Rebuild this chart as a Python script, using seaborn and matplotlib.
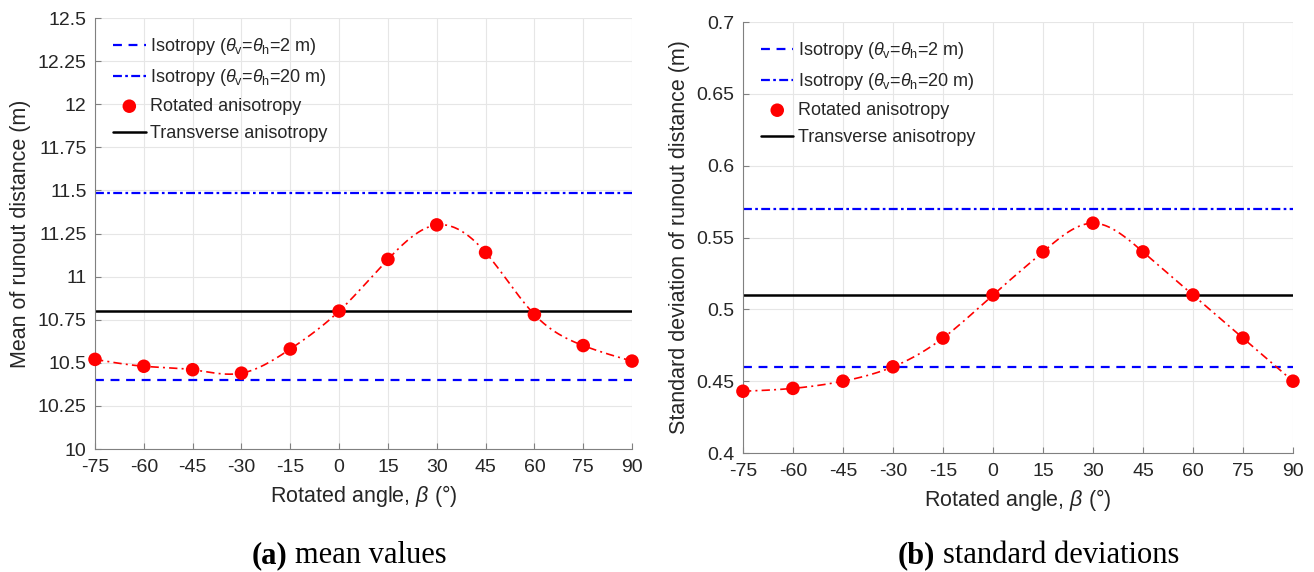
import numpy as np
import pandas as pd
import matplotlib
matplotlib.use("Agg")
import matplotlib.pyplot as plt
import seaborn as sns

# Data
angles = [-75, -60, -45, -30, -15, 0, 15, 30, 45, 60, 75, 90]
mean_rotated = [10.52, 10.48, 10.46, 10.44, 10.58, 10.80, 11.10, 11.30, 11.14, 10.78, 10.60, 10.51]
std_rotated = [0.443, 0.445, 0.450, 0.460, 0.480, 0.510, 0.540, 0.560, 0.540, 0.510, 0.480, 0.450]
mean_iso2, mean_iso20, mean_trans = 10.40, 11.485, 10.80
std_iso2, std_iso20, std_trans = 0.46, 0.57, 0.51

sns.set_style("ticks")
plt.rcParams["font.family"] = ["Liberation Sans", "DejaVu Sans"]
plt.rcParams["mathtext.fontset"] = "custom"
plt.rcParams["mathtext.rm"] = "Liberation Sans"
plt.rcParams["mathtext.it"] = "Liberation Sans:italic"


def natural_spline(x, y, n=300):
    # smooth curve through the points (drawing only)
    x = np.asarray(x, float)
    y = np.asarray(y, float)
    k = len(x)
    h = np.diff(x)
    A = np.zeros((k, k))
    b = np.zeros(k)
    A[0, 0] = A[-1, -1] = 1
    for i in range(1, k - 1):
        A[i, i - 1] = h[i - 1]
        A[i, i] = 2 * (h[i - 1] + h[i])
        A[i, i + 1] = h[i]
        b[i] = 6 * ((y[i + 1] - y[i]) / h[i] - (y[i] - y[i - 1]) / h[i - 1])
    M = np.linalg.solve(A, b)
    xs = np.linspace(x[0], x[-1], n)
    idx = np.clip(np.searchsorted(x, xs) - 1, 0, k - 2)
    x0, x1 = x[idx], x[idx + 1]
    hh = x1 - x0
    ys = (M[idx] * (x1 - xs) ** 3 / (6 * hh) + M[idx + 1] * (xs - x0) ** 3 / (6 * hh)
          + (y[idx] / hh - M[idx] * hh / 6) * (x1 - xs)
          + (y[idx + 1] / hh - M[idx + 1] * hh / 6) * (xs - x0))
    return xs, ys


fig = plt.figure(figsize=(13.14, 5.72), dpi=100)
ax1 = fig.add_axes([0.0723, 0.215, 0.4087, 0.7535])
ax2 = fig.add_axes([0.5654, 0.208, 0.4186, 0.7535])

panels = [
    (ax1, mean_rotated, mean_iso2, mean_iso20, mean_trans, (10, 12.5),
     [10, 10.25, 10.5, 10.75, 11, 11.25, 11.5, 11.75, 12, 12.25, 12.5],
     ["10", "10.25", "10.5", "10.75", "11", "11.25", "11.5", "11.75", "12", "12.25", "12.5"],
     "Mean of runout distance (m)"),
    (ax2, std_rotated, std_iso2, std_iso20, std_trans, (0.4, 0.7),
     [0.4, 0.45, 0.5, 0.55, 0.6, 0.65, 0.7],
     ["0.4", "0.45", "0.5", "0.55", "0.6", "0.65", "0.7"],
     "Standard deviation of runout distance (m)"),
]

for ax, rot, iso2, iso20, trans, ylim, yticks, ylabels, ylab in panels:
    df = pd.DataFrame({"angle": angles, "value": rot})
    ax.axhline(iso2, color="#0000ff", ls=(0, (4, 3)), lw=1.6,
               label=r"Isotropy ($\theta_{\mathrm{v}}$=$\theta_{\mathrm{h}}$=2 m)")
    ax.axhline(iso20, color="#0000ff", ls=(0, (4, 1.5, 1.2, 1.5)), lw=1.6,
               label=r"Isotropy ($\theta_{\mathrm{v}}$=$\theta_{\mathrm{h}}$=20 m)")
    xs, ys = natural_spline(angles, rot)
    ax.plot(xs, ys, color="#ff0000", ls=(0, (5, 2.5, 1.2, 2.5)), lw=1.2)
    sns.scatterplot(data=df, x="angle", y="value", ax=ax, color="#ff0000", s=95,
                    edgecolor="none", zorder=5, clip_on=False, label="Rotated anisotropy")
    ax.axhline(trans, color="black", lw=1.8, label="Transverse anisotropy")

    ax.set_xlim(-75, 90)
    ax.set_ylim(*ylim)
    ax.set_xticks(angles)
    ax.set_xticklabels([str(a) for a in angles])
    ax.set_yticks(yticks)
    ax.set_yticklabels(ylabels)
    ax.grid(True, color="#e6e6e6", lw=0.8)
    ax.set_axisbelow(True)
    for side in ["top", "right"]:
        ax.spines[side].set_visible(False)
    for side in ["left", "bottom"]:
        ax.spines[side].set_color("#808080")
    ax.tick_params(direction="in", length=4, colors="#808080", labelcolor="#262626", labelsize=14)
    ax.tick_params(axis="x", pad=7)
    ax.tick_params(axis="y", pad=6)
    ax.set_xlabel(r"Rotated angle, $\beta$ (°)", fontsize=15.5, color="#262626", labelpad=5)
    ax.set_ylabel(ylab, fontsize=15.5, color="#262626", labelpad=5)

    ax.legend(loc="upper left", frameon=False, fontsize=13, handlelength=1.8,
              handletextpad=0.25, labelspacing=0.55, borderaxespad=0.7,
              borderpad=0.3)

cap = dict(fontsize=22, family="Liberation Serif", va="baseline", color="black")
fig.text(287 / 1314, 9 / 572, "(a)", ha="right", fontweight="bold", **cap)
fig.text(295 / 1314, 9 / 572, "mean values", ha="left", **cap)
fig.text(935 / 1314, 9 / 572, "(b)", ha="right", fontweight="bold", **cap)
fig.text(943 / 1314, 9 / 572, "standard deviations", ha="left", **cap)

fig.savefig("out.png", dpi=100)
